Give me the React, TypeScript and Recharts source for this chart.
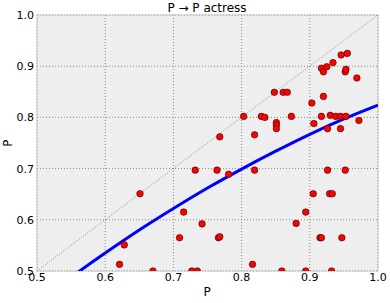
import React from 'react';
import {
  ComposedChart, Scatter, Line, XAxis, YAxis, CartesianGrid, ReferenceLine, ReferenceArea,
} from 'recharts';

// observed (x, y) pairs for the actress relation
const pointX = [
  0.621, 0.628, 0.651, 0.670, 0.709, 0.715, 0.727, 0.732, 0.735, 0.742,
  0.764, 0.766, 0.768, 0.768, 0.781, 0.803, 0.816, 0.819, 0.819, 0.829,
  0.834, 0.848, 0.851, 0.851, 0.851, 0.859, 0.861, 0.867, 0.873, 0.880,
  0.894, 0.894, 0.903, 0.905, 0.906, 0.915, 0.917, 0.917, 0.917, 0.920,
  0.920, 0.925, 0.926, 0.926, 0.929, 0.930, 0.932, 0.933, 0.934, 0.938,
  0.945, 0.945, 0.946, 0.947, 0.952, 0.953, 0.953, 0.952, 0.955, 0.969,
  0.972,
];
const pointY = [
  0.513, 0.551, 0.651, 0.500, 0.565, 0.615, 0.500, 0.697, 0.500, 0.592,
  0.697, 0.565, 0.762, 0.567, 0.689, 0.802, 0.513, 0.766, 0.697, 0.802,
  0.800, 0.849, 0.790, 0.785, 0.778, 0.500, 0.849, 0.849, 0.802, 0.593,
  0.615, 0.500, 0.828, 0.651, 0.788, 0.565, 0.565, 0.896, 0.802, 0.889,
  0.841, 0.899, 0.778, 0.697, 0.651, 0.804, 0.500, 0.651, 0.907, 0.802,
  0.802, 0.778, 0.922, 0.565, 0.889, 0.894, 0.802, 0.697, 0.925, 0.877,
  0.794,
];

// fitted curve
const curveX = [0.55, 0.6, 0.65, 0.7, 0.75, 0.8, 0.85, 0.9, 0.95, 1.0];
const curveY = [0.488, 0.535, 0.580, 0.622, 0.662, 0.699, 0.734, 0.767, 0.797, 0.824];

const ticks = [0.5, 0.6, 0.7, 0.8, 0.9, 1.0];

const points = pointX.map((x, i) => ({ x, y: pointY[i] }));
const curve = curveX.map((x, i) => ({ x, y: curveY[i] }));

const FONT = '"DejaVu Sans", sans-serif';

const Dot = (props: any) => (
  <circle cx={props.cx} cy={props.cy} r={3.3} fill="#ff0000" stroke="#000" strokeWidth={0.5} />
);

const fmt = (v: number) => v.toFixed(1);

export default function App() {
  return (
    <div style={{ position: 'absolute', left: 0, top: 0, width: 390, height: 303, fontFamily: FONT }}>
      <ComposedChart width={390} height={303} margin={{ top: 15, right: 12, bottom: 0, left: 0 }}>
        <CartesianGrid fill="#eeeeee" stroke="#8a8a8a" strokeDasharray="1 2" />
        <XAxis
          type="number" dataKey="x" domain={[0.5, 1]} ticks={ticks} allowDataOverflow
          tickFormatter={fmt} tickLine={false} tickSize={0} tickMargin={2} height={32}
          axisLine={false} tick={{ fill: '#000', fontSize: 11, fontFamily: FONT }}
        />
        <YAxis
          type="number" dataKey="y" domain={[0.5, 1]} ticks={ticks} allowDataOverflow
          tickFormatter={fmt} tickLine={false} tickSize={0} tickMargin={3} width={37}
          axisLine={false} tick={{ fill: '#000', fontSize: 11, fontFamily: FONT }}
        />
        <ReferenceLine
          segment={[{ x: 0.5, y: 0.5 }, { x: 1, y: 1 }]}
          stroke="#777" strokeWidth={0.8} strokeDasharray="1 1.5"
        />
        <Line
          data={curve} dataKey="y" type="monotone" stroke="#0000ff" strokeWidth={3}
          dot={false} isAnimationActive={false}
        />
        <Scatter data={points} dataKey="y" shape={Dot} isAnimationActive={false} />
        <ReferenceArea x1={0.5} x2={1} y1={0.5} y2={1} fill="none" fillOpacity={0} stroke="#c8c8c8" strokeWidth={1} />
      </ComposedChart>
      <svg width={390} height={303} style={{ position: 'absolute', left: 0, top: 0, pointerEvents: 'none' }}>
        <text x={207} y={12} textAnchor="middle" fontSize={12} fontFamily={FONT} fill="#000">P → P actress</text>
        <text x={207} y={296} textAnchor="middle" fontSize={12} fontFamily={FONT} fill="#000">P</text>
        <text transform="translate(12,143) rotate(-90)" textAnchor="middle" fontSize={12} fontFamily={FONT} fill="#000">P</text>
      </svg>
    </div>
  );
}
